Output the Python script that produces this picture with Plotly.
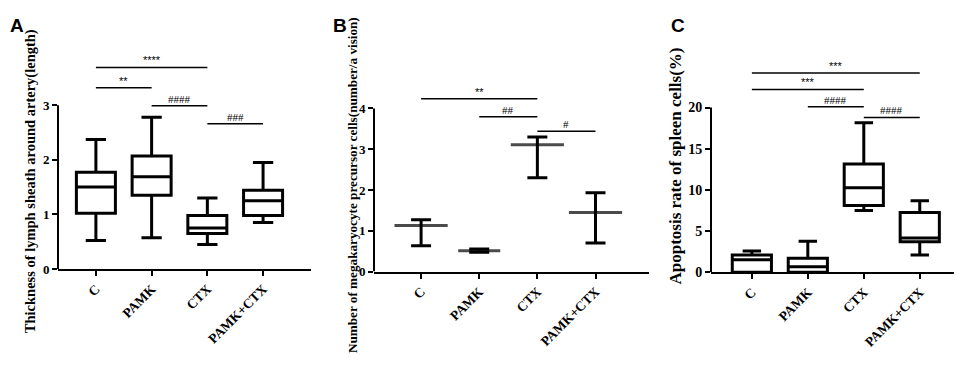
import plotly.graph_objects as go

W, H = 962, 372
SERIF = "Liberation Serif"
SANS = "Liberation Sans"

groups = ["C", "PAMK", "CTX", "PAMK+CTX"]
xpos = [0, 1, 2, 3]

# Panel A - box plots
a_low = [0.52, 0.57, 0.45, 0.85]
a_q1 = [1.02, 1.35, 0.65, 0.98]
a_med = [1.50, 1.69, 0.75, 1.25]
a_q3 = [1.77, 2.07, 0.98, 1.44]
a_high = [2.37, 2.78, 1.30, 1.95]
a_ticks = [0, 1, 2, 3]
a_sig = [(0, 2, 3.69, "****"), (0, 1, 3.32, "**"), (1, 2, 2.99, "####"), (2, 3, 2.66, "###")]

# Panel B - mean with range
b_mean = [1.13, 0.51, 3.11, 1.45]
b_low = [0.63, 0.47, 2.30, 0.70]
b_high = [1.27, 0.55, 3.30, 1.93]
b_ticks = [0, 1, 2, 3, 4]
b_sig = [(0, 2, 4.24, "**"), (1, 2, 3.80, "##"), (2, 3, 3.44, "#")]

# Panel C - box plots
c_low = [0.0, 0.0, 7.5, 2.1]
c_q1 = [0.0, 0.0, 8.1, 3.7]
c_med = [1.5, 0.65, 10.25, 4.15]
c_q3 = [2.1, 1.7, 13.15, 7.25]
c_high = [2.57, 3.75, 18.15, 8.68]
c_ticks = [0, 5, 10, 15, 20]
c_sig = [(0, 3, 24.2, "***"), (0, 2, 22.2, "***"), (1, 2, 20.1, "####"), (2, 3, 18.8, "####")]

fig = go.Figure()

def px_x(p):
    return p / W

def px_y(p):
    return 1 - p / H

panels = [
    dict(xa="x", ya="y", xd=(50, 303), xr=(-0.68, 3.86), y0=266.7, ppu=55.8, ymax=4.1, ticks=a_ticks, tf=13),
    dict(xa="x2", ya="y2", xd=(366, 641), xr=(-0.81, 3.92), y0=269.3, ppu=41.65, ymax=4.6, ticks=b_ticks, tf=13),
    dict(xa="x3", ya="y3", xd=(703, 961), xr=(-0.73, 3.88), y0=270.0, ppu=8.415, ymax=27.0, ticks=c_ticks, tf=14),
]

fig.add_trace(go.Box(x=xpos, q1=a_q1, median=a_med, q3=a_q3, lowerfence=a_low, upperfence=a_high,
                     width=0.7, whiskerwidth=0.52, line=dict(color="black", width=3),
                     fillcolor="rgba(0,0,0,0)", boxpoints=False, xaxis="x", yaxis="y", showlegend=False))
fig.add_trace(go.Scatter(x=xpos, y=b_mean, mode="markers",
                         marker=dict(symbol="line-ew", size=[38, 30, 38, 38],
                                     line=dict(color="black", width=3), color="black"),
                         error_y=dict(type="data", symmetric=False,
                                      array=[h - m for h, m in zip(b_high, b_mean)],
                                      arrayminus=[m - l for m, l in zip(b_mean, b_low)],
                                      width=10, thickness=3, color="black"),
                         xaxis="x2", yaxis="y2", showlegend=False))
fig.add_trace(go.Box(x=xpos, q1=c_q1, median=c_med, q3=c_q3, lowerfence=c_low, upperfence=c_high,
                     width=0.7, whiskerwidth=0.47, line=dict(color="black", width=3),
                     fillcolor="rgba(0,0,0,0)", boxpoints=False, xaxis="x3", yaxis="y3", showlegend=False))

layout = dict(width=W, height=H, margin=dict(l=0, r=0, t=0, b=0),
              paper_bgcolor="white", plot_bgcolor="white", showlegend=False)
shapes = []
annotations = []

for i, p in enumerate(panels):
    sfx = "" if i == 0 else str(i + 1)
    ytop_px = p["y0"] - p["ymax"] * p["ppu"]
    layout["xaxis" + sfx] = dict(
        domain=[px_x(p["xd"][0]), px_x(p["xd"][1])], range=list(p["xr"]), anchor=p["ya"],
        tickvals=xpos, ticktext=["<b>%s</b>" % g for g in groups], tickangle=-45,
        tickfont=dict(family=SERIF, size=13.5, color="black"),
        showline=True, linewidth=2, linecolor="black", ticks="outside", ticklen=5, tickwidth=2,
        tickcolor="black", showgrid=False, zeroline=False, fixedrange=True)
    layout["yaxis" + sfx] = dict(
        domain=[px_y(p["y0"]), px_y(ytop_px)], range=[0, p["ymax"]], anchor=p["xa"],
        tickvals=p["ticks"], ticktext=["<b>%d</b>" % t for t in p["ticks"]],
        tickfont=dict(family=SERIF, size=p["tf"], color="black"),
        showline=False, ticks="outside", ticklen=5, tickwidth=2, tickcolor="black",
        showgrid=False, zeroline=False, fixedrange=True)
    shapes.append(dict(type="line", xref="paper", yref=p["ya"],
                       x0=px_x(p["xd"][0]), x1=px_x(p["xd"][0]), y0=0, y1=p["ticks"][-1],
                       line=dict(color="black", width=2)))

sig_sets = [(a_sig, "x", "y"), (b_sig, "x2", "y2"), (c_sig, "x3", "y3")]
for sig, xa, ya in sig_sets:
    for (s, e, v, lab) in sig:
        shapes.append(dict(type="line", xref=xa, yref=ya, x0=xpos[s], x1=xpos[e], y0=v, y1=v,
                           line=dict(color="black", width=1.5)))
        annotations.append(dict(xref=xa, yref=ya, x=(xpos[s] + xpos[e]) / 2, y=v, text=lab,
                                showarrow=False, yanchor="middle", yshift=7,
                                font=dict(family=SANS if "*" in lab else SERIF, size=11, color="black")))

titles = [
    ("Thickness of lymph sheath around artery(length)", 22, 177, 14.5),
    ("Number of megakaryocyte precursor cells(number/a vision)", 344, 181, 13.2),
    ("Apoptosis rate of spleen cells(%)", 668, 162, 17),
]
for txt, xp, yp, fs in titles:
    annotations.append(dict(xref="paper", yref="paper", x=px_x(xp), y=px_y(yp), text="<b>%s</b>" % txt,
                            textangle=-90, showarrow=False, xanchor="center", yanchor="middle",
                            font=dict(family=SERIF, size=fs, color="black")))

for lab, xp in [("A", 9), ("B", 331.5), ("C", 670)]:
    annotations.append(dict(xref="paper", yref="paper", x=px_x(xp), y=px_y(17.5), text="<b>%s</b>" % lab,
                            showarrow=False, xanchor="center", yanchor="middle",
                            font=dict(family=SANS, size=19, color="black")))

layout["shapes"] = shapes
layout["annotations"] = annotations
fig.update_layout(**layout)
fig.write_html("out.html")
